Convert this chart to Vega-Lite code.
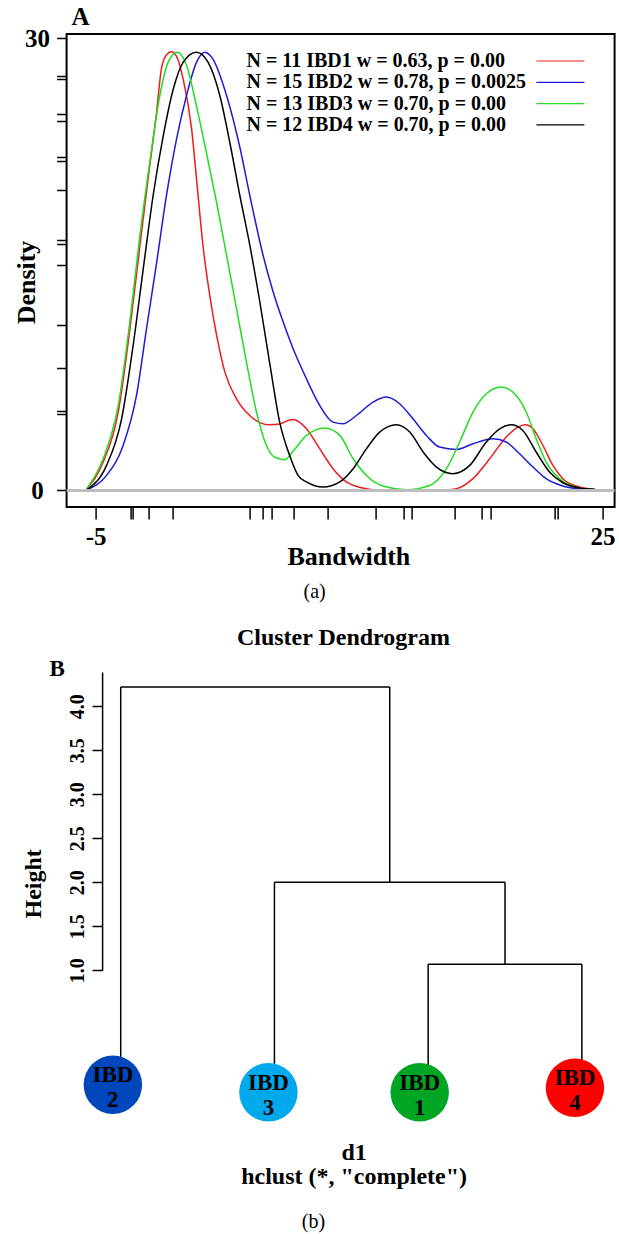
{
  "$schema": "https://vega.github.io/schema/vega-lite/v6.json",
  "background": "white",
  "padding": {"left": 11.6, "top": 4, "right": 0, "bottom": 0},
  "spacing": 24,
  "resolve": {"scale": {"x": "independent", "y": "independent", "color": "independent"}},
  "config": {
    "view": {"stroke": null},
    "font": "Liberation Serif",
    "axis": {"labelFont": "Liberation Serif", "titleFont": "Liberation Serif", "labelColor": "black", "titleColor": "black", "tickColor": "black", "domainColor": "black", "labelFontWeight": "bold", "titleFontWeight": "bold", "grid": false},
    "title": {"font": "Liberation Serif", "color": "black"}
  },
  "datasets": {
    "curves": [
      {"g":"IBD1","x":-5.53,"y":0.1},{"g":"IBD1","x":-4.55,"y":1.88},{"g":"IBD1","x":-3.66,"y":5.2},{"g":"IBD1","x":-2.97,"y":10.7},{"g":"IBD1","x":-2.38,"y":16.2},{"g":"IBD1","x":-1.89,"y":20.7},{"g":"IBD1","x":-1.39,"y":25.1},{"g":"IBD1","x":-1.1,"y":28.0},{"g":"IBD1","x":-0.8,"y":28.9},{"g":"IBD1","x":-0.51,"y":29.1},{"g":"IBD1","x":-0.21,"y":28.8},{"g":"IBD1","x":0.18,"y":27.3},{"g":"IBD1","x":0.68,"y":24.0},{"g":"IBD1","x":0.97,"y":20.7},{"g":"IBD1","x":1.36,"y":16.2},{"g":"IBD1","x":1.76,"y":12.9},{"g":"IBD1","x":2.16,"y":10.3},{"g":"IBD1","x":2.65,"y":7.85},{"g":"IBD1","x":3.34,"y":6.08},{"g":"IBD1","x":4.12,"y":4.97},{"g":"IBD1","x":4.72,"y":4.5},{"g":"IBD1","x":5.3,"y":4.35},{"g":"IBD1","x":5.9,"y":4.4},{"g":"IBD1","x":6.3,"y":4.6},{"g":"IBD1","x":6.69,"y":4.71},{"g":"IBD1","x":7.1,"y":4.5},{"g":"IBD1","x":7.48,"y":4.09},{"g":"IBD1","x":8.26,"y":2.77},{"g":"IBD1","x":9.05,"y":1.44},{"g":"IBD1","x":9.84,"y":0.56},{"g":"IBD1","x":10.8,"y":0.16},{"g":"IBD1","x":11.6,"y":0.03},{"g":"IBD1","x":12.5,"y":0},{"g":"IBD1","x":15.5,"y":0},{"g":"IBD1","x":16.35,"y":0.11},{"g":"IBD1","x":17.33,"y":0.78},{"g":"IBD1","x":18.32,"y":2.1},{"g":"IBD1","x":19.3,"y":3.54},{"g":"IBD1","x":19.99,"y":4.2},{"g":"IBD1","x":20.45,"y":4.36},{"g":"IBD1","x":20.88,"y":4.09},{"g":"IBD1","x":21.47,"y":2.98},{"g":"IBD1","x":22.06,"y":1.66},{"g":"IBD1","x":22.65,"y":0.78},{"g":"IBD1","x":23.44,"y":0.29},{"g":"IBD1","x":24.53,"y":0.07},
      {"g":"IBD2","x":-5.5,"y":0.05},{"g":"IBD2","x":-4.35,"y":1.0},{"g":"IBD2","x":-3.37,"y":2.98},{"g":"IBD2","x":-2.58,"y":6.3},{"g":"IBD2","x":-1.99,"y":10.7},{"g":"IBD2","x":-1.39,"y":15.1},{"g":"IBD2","x":-0.8,"y":19.6},{"g":"IBD2","x":-0.21,"y":23.3},{"g":"IBD2","x":0.38,"y":26.2},{"g":"IBD2","x":0.97,"y":28.4},{"g":"IBD2","x":1.46,"y":29.07},{"g":"IBD2","x":1.95,"y":28.6},{"g":"IBD2","x":2.75,"y":26.2},{"g":"IBD2","x":3.53,"y":22.8},{"g":"IBD2","x":4.12,"y":19.6},{"g":"IBD2","x":4.91,"y":15.6},{"g":"IBD2","x":5.5,"y":13.2},{"g":"IBD2","x":6.09,"y":11.2},{"g":"IBD2","x":6.69,"y":9.4},{"g":"IBD2","x":7.48,"y":7.4},{"g":"IBD2","x":8.26,"y":5.64},{"g":"IBD2","x":9.05,"y":4.53},{"g":"IBD2","x":9.64,"y":4.42},{"g":"IBD2","x":10.43,"y":4.97},{"g":"IBD2","x":11.42,"y":5.86},{"g":"IBD2","x":12.2,"y":6.19},{"g":"IBD2","x":12.99,"y":5.75},{"g":"IBD2","x":13.78,"y":4.75},{"g":"IBD2","x":14.57,"y":3.65},{"g":"IBD2","x":15.35,"y":2.88},{"g":"IBD2","x":16.35,"y":2.72},{"g":"IBD2","x":17.33,"y":3.1},{"g":"IBD2","x":18.51,"y":3.43},{"g":"IBD2","x":19.3,"y":3.21},{"g":"IBD2","x":20.09,"y":2.43},{"g":"IBD2","x":20.88,"y":1.55},{"g":"IBD2","x":21.66,"y":0.78},{"g":"IBD2","x":22.65,"y":0.29},{"g":"IBD2","x":23.83,"y":0.07},{"g":"IBD2","x":24.5,"y":0.02},
      {"g":"IBD3","x":-5.53,"y":0.1},{"g":"IBD3","x":-4.55,"y":2.1},{"g":"IBD3","x":-3.66,"y":5.64},{"g":"IBD3","x":-2.97,"y":11.2},{"g":"IBD3","x":-2.38,"y":16.9},{"g":"IBD3","x":-1.79,"y":21.8},{"g":"IBD3","x":-1.2,"y":26.2},{"g":"IBD3","x":-0.71,"y":28.4},{"g":"IBD3","x":-0.17,"y":29.07},{"g":"IBD3","x":0.38,"y":28.2},{"g":"IBD3","x":0.97,"y":25.5},{"g":"IBD3","x":1.56,"y":22.4},{"g":"IBD3","x":2.16,"y":19.1},{"g":"IBD3","x":2.75,"y":15.6},{"g":"IBD3","x":3.34,"y":12.05},{"g":"IBD3","x":3.93,"y":8.5},{"g":"IBD3","x":4.52,"y":5.2},{"g":"IBD3","x":5.11,"y":2.98},{"g":"IBD3","x":5.6,"y":2.2},{"g":"IBD3","x":6.2,"y":2.04},{"g":"IBD3","x":6.69,"y":2.6},{"g":"IBD3","x":7.48,"y":3.65},{"g":"IBD3","x":8.56,"y":4.14},{"g":"IBD3","x":9.45,"y":3.65},{"g":"IBD3","x":10.24,"y":2.1},{"g":"IBD3","x":11.03,"y":0.99},{"g":"IBD3","x":12.0,"y":0.29},{"g":"IBD3","x":13.39,"y":0.05},{"g":"IBD3","x":14.77,"y":0.33},{"g":"IBD3","x":15.76,"y":1.44},{"g":"IBD3","x":16.54,"y":3.21},{"g":"IBD3","x":17.33,"y":5.2},{"g":"IBD3","x":18.12,"y":6.41},{"g":"IBD3","x":19.0,"y":6.86},{"g":"IBD3","x":19.89,"y":6.3},{"g":"IBD3","x":20.48,"y":5.2},{"g":"IBD3","x":21.07,"y":3.43},{"g":"IBD3","x":21.66,"y":1.88},{"g":"IBD3","x":22.45,"y":0.78},{"g":"IBD3","x":23.44,"y":0.22},{"g":"IBD3","x":24.43,"y":0.07},
      {"g":"IBD4","x":-5.5,"y":0.05},{"g":"IBD4","x":-4.35,"y":1.66},{"g":"IBD4","x":-3.46,"y":4.75},{"g":"IBD4","x":-2.78,"y":9.6},{"g":"IBD4","x":-2.18,"y":14.7},{"g":"IBD4","x":-1.59,"y":19.6},{"g":"IBD4","x":-1.0,"y":23.5},{"g":"IBD4","x":-0.41,"y":26.6},{"g":"IBD4","x":0.18,"y":28.4},{"g":"IBD4","x":0.97,"y":29.07},{"g":"IBD4","x":1.66,"y":28.4},{"g":"IBD4","x":2.35,"y":26.2},{"g":"IBD4","x":2.94,"y":23.1},{"g":"IBD4","x":3.53,"y":19.6},{"g":"IBD4","x":4.12,"y":16.3},{"g":"IBD4","x":4.72,"y":12.5},{"g":"IBD4","x":5.31,"y":8.4},{"g":"IBD4","x":5.9,"y":4.5},{"g":"IBD4","x":6.49,"y":2.3},{"g":"IBD4","x":6.98,"y":1.0},{"g":"IBD4","x":7.48,"y":0.56},{"g":"IBD4","x":8.46,"y":0.22},{"g":"IBD4","x":9.45,"y":0.56},{"g":"IBD4","x":10.24,"y":1.44},{"g":"IBD4","x":11.03,"y":2.77},{"g":"IBD4","x":11.81,"y":3.87},{"g":"IBD4","x":12.8,"y":4.36},{"g":"IBD4","x":13.59,"y":3.87},{"g":"IBD4","x":14.38,"y":2.55},{"g":"IBD4","x":15.17,"y":1.55},{"g":"IBD4","x":16.15,"y":1.11},{"g":"IBD4","x":17.14,"y":1.66},{"g":"IBD4","x":18.12,"y":3.21},{"g":"IBD4","x":18.91,"y":4.09},{"g":"IBD4","x":19.6,"y":4.36},{"g":"IBD4","x":20.28,"y":3.98},{"g":"IBD4","x":21.07,"y":2.55},{"g":"IBD4","x":21.86,"y":1.22},{"g":"IBD4","x":22.65,"y":0.51},{"g":"IBD4","x":23.64,"y":0.16},{"g":"IBD4","x":24.53,"y":0.07}
    ],
    "segments": [
      {"hx":1,"hx2":1,"hy":-0.3,"hy2":4.22},
      {"hx":1,"hx2":2.75,"hy":4.22,"hy2":4.22},
      {"hx":2.75,"hx2":2.75,"hy":2.0,"hy2":4.22},
      {"hx":2,"hx2":2,"hy":-0.386,"hy2":2.0},
      {"hx":2,"hx2":3.5,"hy":2.0,"hy2":2.0},
      {"hx":3.5,"hx2":3.5,"hy":1.07,"hy2":2.0},
      {"hx":3,"hx2":3,"hy":-0.386,"hy2":1.07},
      {"hx":3,"hx2":4,"hy":1.07,"hy2":1.07},
      {"hx":4,"hx2":4,"hy":-0.336,"hy2":1.07}
    ],
    "leaves": [
      {"leaf":"IBD2","cx":0.949,"cy":-0.3,"t":"IBD\n2"},
      {"leaf":"IBD3","cx":1.961,"cy":-0.386,"t":"IBD\n3"},
      {"leaf":"IBD1","cx":2.945,"cy":-0.386,"t":"IBD\n1"},
      {"leaf":"IBD4","cx":3.955,"cy":-0.336,"t":"IBD\n4"}
    ]
  },
  "vconcat": [
    {
      "title": {"text": "(a)", "orient": "bottom", "anchor": "middle", "fontSize": 20, "fontWeight": "normal", "offset": 12},
      "vconcat": [
        {
          "width": 548,
          "height": 473,
          "view": {"stroke": "black", "strokeWidth": 2},
          "title": {"text": "A", "anchor": "start", "frame": "group", "fontSize": 25, "fontWeight": "bold", "baseline": "alphabetic", "offset": -24, "dx": 5},
          "layer": [
            {
              "data": {"name": "curves"},
              "mark": {"type": "line", "interpolate": "monotone", "strokeWidth": 1.5},
              "encoding": {
                "x": {"field": "x", "type": "quantitative", "scale": {"domain": [-6.715, 25.71], "nice": false, "zero": false},
                  "axis": {"title": "Bandwidth", "values": [-5, -2.91, -2.82, -1.84, -0.45, 4.14, 4.89, 5.4, 6.73, 8.74, 11.58, 13.23, 13.72, 16.23, 17.86, 18.37, 22.14, 22.35, 25], "tickCount": 100,
                    "labelExpr": "datum.value == -5 ? '-5' : datum.value == 25 ? '25' : ''", "domain": false, "tickSize": 12, "tickWidth": 1.5,
                    "labelFontSize": 25, "titleFontSize": 26, "labelPadding": 5, "titlePadding": -6, "labelOverlap": false, "labelFlush": false, "titleX": 281.8}},
                "y": {"field": "y", "type": "quantitative", "scale": {"domain": [-1.1, 30.28], "nice": false, "zero": false},
                  "axis": {"title": "Density", "values": [0, 5.04, 5.27, 8.12, 11.0, 14.97, 16.36, 16.6, 19.91, 21.84, 22.15, 24.5, 24.98, 27.3, 27.52, 30], "tickCount": 100,
                    "labelExpr": "datum.value == 0 ? '0' : datum.value == 30 ? '30' : ''", "domain": false, "tickSize": 10, "tickWidth": 1.5,
                    "labelFontSize": 25, "labelAlign": "center", "labelPadding": 19.7, "labelOverlap": false, "labelFlush": false,
                    "titleFontSize": 26, "titleBaseline": "alphabetic", "titleX": -32.5, "titleY": 248}},
                "color": {"field": "g", "type": "nominal",
                  "scale": {"domain": ["IBD1", "IBD2", "IBD3", "IBD4"], "range": ["#ee1c1c", "#1c1cd8", "#22dd22", "#000000"]},
                  "legend": {"orient": "none", "legendX": 131.6, "legendY": 17, "title": null,
                    "labelExpr": "{'IBD1': 'N = 11 IBD1 w = 0.63, p = 0.00', 'IBD2': 'N = 15 IBD2 w = 0.78, p = 0.0025', 'IBD3': 'N = 13 IBD3 w = 0.70, p = 0.00', 'IBD4': 'N = 12 IBD4 w = 0.70, p = 0.00'}[datum.label]",
                    "labelFont": "Liberation Serif", "labelFontSize": 20, "labelFontWeight": "bold", "labelColor": "black", "labelLimit": 600,
                    "symbolType": "M-4,0H4", "symbolSize": 144, "symbolStrokeWidth": 1.2, "symbolOffset": 352.2, "labelOffset": -323.9,
                    "rowPadding": 1.3, "padding": 0}}
              }
            },
            {
              "data": {"values": [{"y": 0}]},
              "mark": {"type": "rule", "color": "#bdbdbd", "strokeWidth": 3},
              "encoding": {"y": {"field": "y", "type": "quantitative"}}
            }
          ]
        }
      ]
    },
    {
      "title": {"text": "(b)", "orient": "bottom", "anchor": "middle", "fontSize": 20, "fontWeight": "normal", "offset": 24},
      "vconcat": [
        {
          "title": {"text": "Cluster Dendrogram", "anchor": "middle", "fontSize": 24, "fontWeight": "bold", "offset": 8, "dx": 30},
          "vconcat": [
            {
              "width": 539.1,
              "height": 298.3,
              "title": {"text": "B", "anchor": "start", "frame": "group", "fontSize": 23, "fontWeight": "bold", "baseline": "alphabetic", "offset": -27, "dx": -17.2},
              "layer": [
                {
                  "data": {"name": "segments"},
                  "mark": {"type": "rule", "color": "black", "strokeWidth": 1.5},
                  "encoding": {
                    "x": {"field": "hx", "type": "quantitative", "scale": {"domain": [0.648, 4.155], "nice": false, "zero": false},
                      "axis": {"title": ["d1", "hclust (*, \"complete\")"], "labels": false, "ticks": false, "domain": false, "titleFontSize": 24, "titleLineHeight": 24, "titlePadding": 170, "titleX": 287}},
                    "x2": {"field": "hx2"},
                    "y": {"field": "hy", "type": "quantitative", "scale": {"domain": [1, 4.39], "nice": false, "zero": false},
                      "axis": {"title": "Height", "values": [1, 1.5, 2, 2.5, 3, 3.5, 4], "tickCount": 100, "format": ".1f", "labelAngle": -90, "labelFontSize": 20, "titleFontSize": 24, "offset": -35.5,
                        "tickSize": 10, "tickWidth": 1.5, "domainWidth": 1.5, "labelPadding": 5, "titlePadding": 22, "titleY": 211.3}},
                    "y2": {"field": "hy2"}
                  }
                },
                {
                  "data": {"name": "leaves"},
                  "mark": {"type": "circle", "size": 3420, "opacity": 1},
                  "encoding": {
                    "x": {"field": "cx", "type": "quantitative"},
                    "y": {"field": "cy", "type": "quantitative"},
                    "color": {"field": "leaf", "type": "nominal", "legend": null,
                      "scale": {"domain": ["IBD2", "IBD3", "IBD1", "IBD4"], "range": ["#0047bb", "#00a9ec", "#00a523", "#fe0000"]}}
                  }
                },
                {
                  "data": {"name": "leaves"},
                  "mark": {"type": "text", "font": "Liberation Serif", "fontSize": 23, "fontWeight": "bold", "lineBreak": "\n", "lineHeight": 25, "baseline": "middle", "align": "center", "color": "black", "dy": -9.5},
                  "encoding": {
                    "x": {"field": "cx", "type": "quantitative"},
                    "y": {"field": "cy", "type": "quantitative"},
                    "text": {"field": "t"}
                  }
                }
              ]
            }
          ]
        }
      ]
    }
  ]
}
